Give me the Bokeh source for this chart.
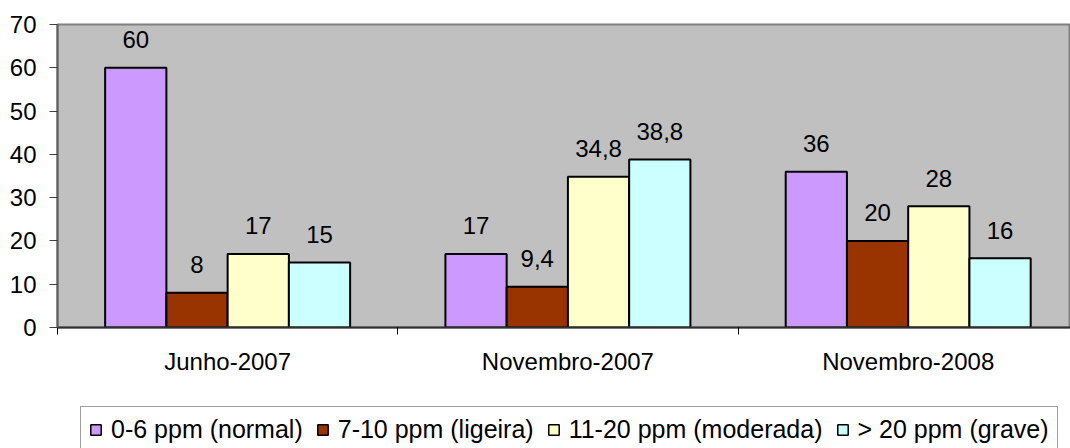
from bokeh.plotting import figure
from bokeh.layouts import column
from bokeh.models import ColumnDataSource, Range1d, FixedTicker, Legend, LegendItem
from bokeh.core.properties import value
from bokeh.transform import dodge
from bokeh.embed import file_html
from bokeh.resources import INLINE

# Survey periods (categories) and the share in each CO band
periods = ["Junho-2007", "Novembro-2007", "Novembro-2008"]
series_names = ["0-6 ppm (normal)", "7-10 ppm (ligeira)",
                "11-20 ppm (moderada)", "> 20 ppm (grave)"]
normal = [60, 17, 36]
ligeira = [8, 9.4, 20]
moderada = [17, 34.8, 28]
grave = [15, 38.8, 16]
y_ticks = [0, 10, 20, 30, 40, 50, 60, 70]

series_values = [normal, ligeira, moderada, grave]
colors = ["#CC99FF", "#993300", "#FFFFCC", "#CCFFFF"]

FONT = "Liberation Sans"
BAR_W = 0.18

# ---- main bar chart -------------------------------------------------------
p = figure(width=1070, height=400, output_backend="svg", toolbar_location=None,
           x_range=Range1d(0, 2.977), y_range=Range1d(0, 70),
           min_border_left=57, min_border_right=0,
           min_border_top=24, min_border_bottom=73,
           background_fill_color="#C0C0C0", border_fill_color="white",
           outline_line_color="#808080", outline_line_width=2)
p.grid.visible = False

centers = [i + 0.5 for i in range(len(periods))]

sources = []
for k, (vals, col) in enumerate(zip(series_values, colors)):
    offset = (k - 1.5) * BAR_W
    src = ColumnDataSource(dict(
        x=centers,
        v=vals,
        label=[f"{v:g}".replace(".", ",") for v in vals],
    ))
    sources.append(src)
    p.vbar(x=dodge("x", offset, range=p.x_range), top="v", width=BAR_W,
           source=src, fill_color=col, line_color="black", line_width=2)
    p.text(x=dodge("x", offset, range=p.x_range), y="v", text="label", source=src,
           text_align="center", text_baseline="alphabetic", y_offset=-28,
           text_font=value(FONT), text_font_size="24px", text_color="black")

# x axis: category names at group centres, short ticks at group boundaries
xa = p.xaxis[0]
xa.ticker = FixedTicker(ticks=centers, minor_ticks=[0, 1, 2, 3])
xa.major_label_overrides = {c: n for c, n in zip(centers, periods)}
xa.major_tick_out = 0
xa.major_tick_in = 0
xa.minor_tick_out = 7
xa.minor_tick_in = 0
xa.minor_tick_line_color = "black"
xa.axis_line_color = "#303030"
xa.axis_line_width = 2
xa.major_label_standoff = 13
xa.major_label_text_font = FONT
xa.major_label_text_font_size = "24px"
xa.major_label_text_color = "black"

ya = p.yaxis[0]
ya.ticker = FixedTicker(ticks=y_ticks, minor_ticks=[])
ya.major_tick_out = 8
ya.major_tick_in = 0
ya.major_tick_line_color = "#404040"
ya.major_tick_line_width = 1
ya.axis_line_color = "#606060"
ya.axis_line_width = 2
ya.major_label_standoff = 13
ya.major_label_text_font = FONT
ya.major_label_text_font_size = "24px"
ya.major_label_text_color = "black"

# ---- legend strip below the chart -----------------------------------------
# The strip re-uses the series sources only to carry the legend swatches;
# its renderers are hidden so that only the legend box is drawn.
lg = figure(width=1070, height=48, output_backend="svg", toolbar_location=None,
            x_range=p.x_range, y_range=Range1d(0, 70),
            min_border_left=57, min_border_right=0,
            min_border_top=0, min_border_bottom=0,
            background_fill_color="white", border_fill_color="white",
            outline_line_color=None)
lg.grid.visible = False
lg.axis.visible = False

legend_items = []
for k, (name, src, col) in enumerate(zip(series_names, sources, colors)):
    offset = (k - 1.5) * BAR_W
    r = lg.vbar(x=dodge("x", offset, range=lg.x_range), top="v", width=BAR_W,
                source=src, fill_color=col, line_color="black", line_width=1.5)
    r.visible = False
    legend_items.append(LegendItem(label=name, renderers=[r]))

legend = Legend(items=legend_items, orientation="horizontal",
                location=(23, -5), padding=8, spacing=13, margin=0,
                label_standoff=9, glyph_width=13, glyph_height=13,
                label_text_font=FONT, label_text_font_size="25px",
                label_text_color="black",
                border_line_color="#404040", border_line_width=1,
                background_fill_color="white", background_fill_alpha=1.0)
lg.add_layout(legend, "center")

layout = column(p, lg, spacing=0)
open("out.html", "w").write(file_html(layout, INLINE))
